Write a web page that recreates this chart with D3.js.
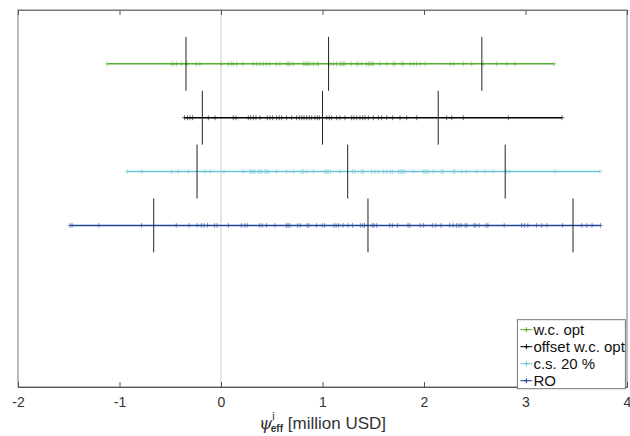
<html>
<script src='https://d3js.org/d3.v7.min.js'></script>
<style>
  body {margin: 0; background: white;}
  text {font-family: "Liberation Sans", Arial, sans-serif;}
</style>
<body>
<svg class="chart" width=630 height=436></svg>
<script>
// series names, top row first
var names = ["w.c. opt", "offset w.c. opt", "c.s. 20 %", "RO"];
var rows = [4, 3, 2, 1];
var colors = ["#57b030", "#000000", "#6cc5d5", "#1f469b"];

var wcOpt = [-1.12, -0.486, -0.463, -0.437, -0.388, -0.332, -0.240, -0.207, 0.007, 0.072, 0.099, 0.121, 0.154, 0.213,
  0.319, 0.351, 0.384, 0.417, 0.450, 0.483, 0.548, 0.581, 0.647, 0.663, 0.680, 0.713, 0.811, 0.828, 0.844, 0.860,
  0.877, 0.910, 0.943, 0.959, 1.074, 1.107, 1.140, 1.172, 1.189, 1.205, 1.222, 1.287, 1.337, 1.353, 1.386, 1.435,
  1.452, 1.468, 1.484, 1.501, 1.567, 1.632, 1.698, 1.714, 1.780, 1.796, 1.862, 1.895, 1.928, 1.961, 2.010, 2.256,
  2.289, 2.387, 2.470, 2.585, 2.716, 2.814, 2.897, 3.28];
var offsetWcOpt = [-0.36, -0.33, -0.305, -0.28, -0.125, -0.059, 0.121, 0.148, 0.269, 0.292, 0.319, 0.345, 0.384,
  0.456, 0.483, 0.509, 0.548, 0.575, 0.598, 0.647, 0.696, 0.745, 0.772, 0.795, 0.818, 0.844, 0.870, 0.893, 0.926,
  0.949, 0.969, 1.041, 1.067, 1.090, 1.140, 1.172, 1.222, 1.287, 1.310, 1.337, 1.369, 1.396, 1.419, 1.452, 1.501,
  1.550, 1.583, 1.632, 1.691, 1.764, 1.829, 1.928, 2.223, 2.273, 2.387, 2.831, 3.36];
var cs20 = [-0.923, -0.782, -0.486, -0.420, -0.322, -0.158, -0.102, 0.030, 0.220, 0.286, 0.302, 0.319, 0.335, 0.368,
  0.384, 0.401, 0.433, 0.450, 0.466, 0.548, 0.647, 0.713, 0.795, 0.811, 0.844, 0.910, 1.025, 1.041, 1.057, 1.080,
  1.172, 1.297, 1.320, 1.386, 1.402, 1.484, 1.517, 1.550, 1.599, 1.632, 1.672, 1.691, 1.747, 1.764, 1.780, 1.796,
  1.813, 1.895, 1.993, 2.010, 2.026, 2.043, 2.092, 2.174, 2.190, 2.289, 2.305, 2.371, 2.420, 2.519, 2.601, 2.683,
  2.814, 2.84, 3.291, 3.734];
var ro = [-1.488, -1.467, -1.204, -0.783, -0.441, -0.314, -0.235, -0.194, -0.167, -0.133, -0.064, -0.040, 0.073,
  0.199, 0.234, 0.258, 0.381, 0.405, 0.449, 0.531, 0.644, 0.661, 0.679, 0.757, 0.781, 0.850, 0.867, 0.942, 0.997,
  1.021, 1.113, 1.134, 1.158, 1.202, 1.250, 1.295, 1.373, 1.397, 1.414, 1.490, 1.507, 1.534, 1.661, 1.688, 1.740,
  1.842, 1.859, 1.962, 1.996, 2.082, 2.116, 2.167, 2.253, 2.287, 2.321, 2.345, 2.366, 2.407, 2.424, 2.493, 2.510,
  2.544, 2.612, 2.630, 2.790, 2.962, 2.989, 3.023, 3.109, 3.160, 3.211, 3.365, 3.554, 3.605, 3.656, 3.74];
var series = [wcOpt, offsetWcOpt, cs20, ro];

// the three vertical marks on every row
var quantiles = [[-0.345, 1.06, 2.57], [-0.184, 1.0, 2.14], [-0.236, 1.248, 2.80], [-0.663, 1.448, 3.468]];

var xTicks = [-2, -1, 0, 1, 2, 3, 4];

var margin = {top: 10, right: 3, bottom: 49, left: 18},
    width = 630 - margin.left - margin.right,
    height = 436 - margin.top - margin.bottom;

var x = d3.scaleLinear().domain([-2, 4]).range([0, width]);
var y = d3.scaleLinear().domain([-2, 5]).range([height, 0]);

var g = d3.select(".chart").append("g")
  .attr("transform", "translate(" + margin.left + "," + margin.top + ")");

// zero line
g.append("line")
  .attr("x1", x(0)).attr("x2", x(0))
  .attr("y1", 0).attr("y2", height)
  .attr("stroke", "#cccccc").attr("stroke-width", 1);

function plus(px, py, s) {
  return "M" + (px - s) + "," + py + "h" + (2 * s) + "M" + px + "," + (py - s) + "v" + (2 * s);
}

series.forEach(function(vals, i) {
  var row = rows[i];
  g.append("path")
    .datum(vals)
    .attr("fill", "none")
    .attr("stroke", colors[i])
    .attr("stroke-width", 1.5)
    .attr("d", d3.line().x(function(d) { return x(d); }).y(function() { return y(row); }));

  g.append("g").selectAll("path").data(vals).enter()
    .append("path")
      .attr("d", function(d) { return plus(x(d), y(row), 2.5); })
      .attr("stroke", colors[i])
      .attr("stroke-opacity", 0.55)
      .attr("stroke-width", 1);

  g.append("g").selectAll("line").data(quantiles[i]).enter()
    .append("line")
      .attr("x1", function(d) { return x(d); })
      .attr("x2", function(d) { return x(d); })
      .attr("y1", y(row + 0.5))
      .attr("y2", y(row - 0.5))
      .attr("stroke", "#222")
      .attr("stroke-width", 1);
});

// box
g.append("rect")
  .attr("x", 0).attr("y", 0).attr("width", width).attr("height", height)
  .attr("fill", "none").attr("stroke", "#777").attr("stroke-width", 1);

// bottom axis
var xAxis = g.append("g")
  .attr("transform", "translate(0," + height + ")")
  .call(d3.axisBottom(x).tickValues(xTicks).tickSize(-5).tickPadding(10)
    .tickFormat(function(d) { return String(d); }));
xAxis.select(".domain").attr("stroke", "#555");
xAxis.selectAll(".tick line").attr("stroke", "#555");
xAxis.selectAll("text").attr("font-size", 14).attr("fill", "#333")
  .style("font-family", "Liberation Sans, Arial, sans-serif");

// top ticks
var topAxis = g.append("g")
  .call(d3.axisTop(x).tickValues(xTicks).tickSize(-5).tickFormat(""));
topAxis.select(".domain").attr("stroke", "#777");
topAxis.selectAll(".tick line").attr("stroke", "#555");

// x label
var lab = d3.select(".chart").append("text")
  .attr("x", 259).attr("y", 429)
  .attr("font-size", 17).attr("fill", "#333");
lab.append("tspan").attr("font-family", "DejaVu Serif, serif").attr("font-style", "italic").text("ψ");
lab.append("tspan").attr("font-size", 11).attr("dy", -9).text("i");
lab.append("tspan").attr("font-size", 10).attr("font-weight", "bold").attr("dx", -4).attr("dy", 12).text("eff");
lab.append("tspan").attr("dy", -3).text(" [million USD]");

// legend
var leg = g.append("g").attr("transform", "translate(" + (x(2.92)) + "," + (y(-0.75)) + ")");
leg.append("rect")
  .attr("width", 108).attr("height", 69)
  .attr("fill", "white").attr("stroke", "#777").attr("stroke-width", 1);
names.forEach(function(n, i) {
  var ly = 10 + i * 17;
  leg.append("line").attr("x1", 3).attr("x2", 15).attr("y1", ly).attr("y2", ly)
    .attr("stroke", colors[i]).attr("stroke-width", 1);
  leg.append("path").attr("d", plus(9, ly, 2.5)).attr("stroke", colors[i]).attr("stroke-width", 1);
  leg.append("text").attr("x", 16).attr("y", ly + 5.5)
    .attr("font-size", 15).attr("fill", "#111").text(n);
});
</script>
</body>
</html>
